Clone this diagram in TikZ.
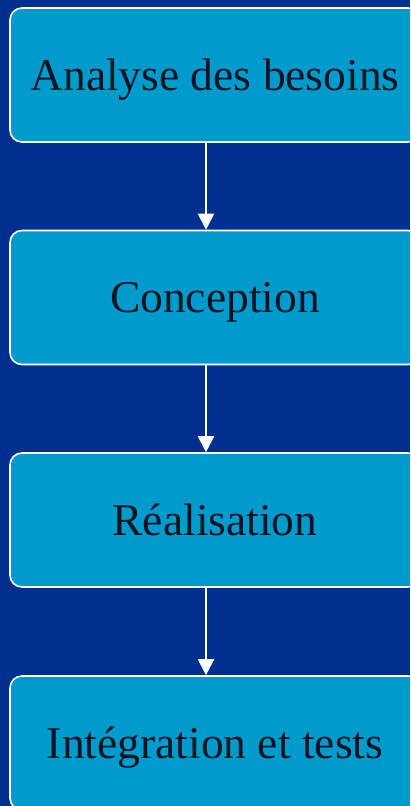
\documentclass[tikz,border=0pt]{standalone}
\usepackage{fontspec}
\setmainfont{Liberation Serif}
\usetikzlibrary{arrows.meta}
\definecolor{bgblue}{RGB}{0,48,143}
\definecolor{boxblue}{RGB}{0,155,205}
\definecolor{txt}{RGB}{10,20,35}
\tikzset{
  stepbox/.style={draw=white, line width=1.6pt, fill=boxblue, rounded corners=12pt,
    minimum width=410pt, minimum height=134pt, inner sep=0pt, text=txt,
    text height=30pt, text depth=0pt,
    font=\fontsize{45.5}{50}\selectfont},
  flow/.style={draw=white, line width=2pt, -{Triangle[width=16pt,length=16pt]}}
}
\begin{document}
\begin{tikzpicture}[x=1pt,y=1pt]
\fill[bgblue] (0,0) rectangle (410,-806);
\useasboundingbox (0,0) rectangle (410,-806);
\clip (0,0) rectangle (410,-806);
\node[stepbox] (a) at (215,-75) {Analyse des besoins};
\node[stepbox] (b) at (215,-297.5) {Conception};
\node[stepbox] (c) at (215,-520) {Réalisation};
\node[stepbox] (d) at (215,-743) {Intégration et tests};
\draw[flow] (a.south -| 206,0) -- (b.north -| 206,0);
\draw[flow] (b.south -| 206,0) -- (c.north -| 206,0);
\draw[flow] (c.south -| 206,0) -- (d.north -| 206,0);
\end{tikzpicture}
\end{document}
